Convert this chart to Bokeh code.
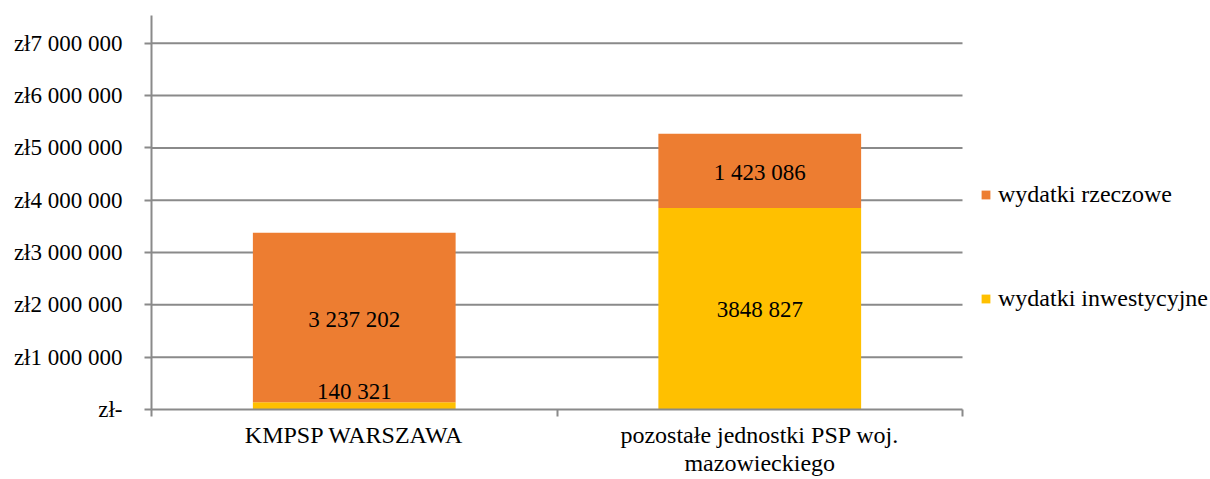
import numpy as np
from bokeh.plotting import figure
from bokeh.models import (ColumnDataSource, FixedTicker, Legend, LegendItem, LabelSet)
from bokeh.embed import file_html
from bokeh.resources import INLINE

# ---- data ----
categories = ["KMPSP WARSZAWA", "pozostałe jednostki PSP woj.\nmazowieckiego"]
series_names = ["wydatki inwestycyjne", "wydatki rzeczowe"]
inwestycyjne = [140321, 3848827]
rzeczowe = [3237202, 1423086]
inwestycyjne_labels = ["140 321", "3848 827"]
rzeczowe_labels = ["3 237 202", "1 423 086"]
y_ticks = [0, 1000000, 2000000, 3000000, 4000000, 5000000, 6000000, 7000000]
y_tick_labels = ["zł-", "zł1 000 000", "zł2 000 000", "zł3 000 000", "zł4 000 000",
                 "zł5 000 000", "zł6 000 000", "zł7 000 000"]

colors = {"wydatki inwestycyjne": "#FFC000", "wydatki rzeczowe": "#ED7D31"}
FONT = "Liberation Serif"
FS = "23px"
FS_X = "24px"
GRID = "#8a8a8a"

W, H = 1210, 479
LEFT, PLOT_RIGHT, TOP, BOTTOM = 151, 962, 15, 411
n = len(categories)
# the frame extends to the right edge so that the legend is not clipped;
# the axis and grid lines are limited to the category span
x_end = n * (W - LEFT) / (PLOT_RIGHT - LEFT)

x = np.arange(n) + 0.5
source = ColumnDataSource(dict(x=x, inw=inwestycyjne, rz=rzeczowe))

p = figure(width=W, height=H, output_backend="svg", toolbar_location=None,
           x_range=(0, x_end), y_range=(0, 7530000),
           min_border_left=LEFT, min_border_right=0, min_border_top=TOP,
           min_border_bottom=H - BOTTOM)
p.outline_line_color = None
p.background_fill_color = "white"
p.border_fill_color = "white"
p.xgrid.grid_line_color = None
p.ygrid.grid_line_color = None

# horizontal grid lines, bounded to the category span
gy = y_ticks[1:]
p.segment(x0=[0] * len(gy), y0=gy, x1=[n] * len(gy), y1=gy,
          line_color=GRID, line_width=2)

rs = p.vbar_stack(["inw", "rz"], x="x", width=0.5, source=source,
                  color=[colors["wydatki inwestycyjne"], colors["wydatki rzeczowe"]],
                  line_color=None)

# data labels
inw_arr = np.array(inwestycyjne, dtype=float)
rz_arr = np.array(rzeczowe, dtype=float)
small = inw_arr < 300000
inw_y = np.where(small, inw_arr, inw_arr / 2)
lab_src_a = ColumnDataSource(dict(x=x[~small], y=inw_y[~small],
                                  t=[l for l, s in zip(inwestycyjne_labels, small) if not s]))
lab_src_b = ColumnDataSource(dict(x=x[small], y=inw_y[small],
                                  t=[l for l, s in zip(inwestycyjne_labels, small) if s]))
lab_src_c = ColumnDataSource(dict(x=x, y=inw_arr + rz_arr / 2, t=rzeczowe_labels))

for src, base, yoff in [(lab_src_a, "middle", -1), (lab_src_b, "bottom", -2), (lab_src_c, "middle", -2)]:
    p.add_layout(LabelSet(x="x", y="y", text="t", source=src, text_align="center",
                          text_baseline=base, y_offset=yoff, text_font=FONT,
                          text_font_size=FS, text_color="black"))

# y axis
p.yaxis.ticker = FixedTicker(ticks=y_ticks)
p.yaxis.major_label_overrides = {t: l for t, l in zip(y_ticks, y_tick_labels)}
p.yaxis.major_label_text_font = FONT
p.yaxis.major_label_text_font_size = FS
p.yaxis.major_label_text_color = "black"
p.yaxis.axis_line_color = GRID
p.yaxis.axis_line_width = 2
p.yaxis.major_tick_line_color = GRID
p.yaxis.major_tick_line_width = 2
p.yaxis.major_tick_out = 7
p.yaxis.major_tick_in = 0
p.yaxis.minor_tick_line_color = None
p.yaxis.major_label_standoff = 22

# x axis
p.xaxis.bounds = (0, n)
p.xaxis.ticker = FixedTicker(ticks=list(x), minor_ticks=list(np.arange(n + 1)))
p.xaxis.major_label_overrides = {float(xx): c for xx, c in zip(x, categories)}
p.xaxis.major_label_text_font = FONT
p.xaxis.major_label_text_font_size = FS_X
p.xaxis.major_label_text_line_height = 1.1
p.xaxis.major_label_text_color = "black"
p.xaxis.axis_line_color = GRID
p.xaxis.axis_line_width = 2
p.xaxis.major_tick_line_color = None
p.xaxis.major_tick_out = 7
p.xaxis.minor_tick_line_color = GRID
p.xaxis.minor_tick_line_width = 2
p.xaxis.minor_tick_out = 7
p.xaxis.minor_tick_in = 0
p.xaxis.major_label_standoff = 5

legend = Legend(items=[LegendItem(label=series_names[1], renderers=[rs[1]]),
                       LegendItem(label=series_names[0], renderers=[rs[0]])],
                location=(829, 97), orientation="vertical")
legend.label_text_font = FONT
legend.label_text_font_size = FS_X
legend.label_text_color = "black"
legend.glyph_width = 11
legend.glyph_height = 11
legend.label_standoff = 7
legend.spacing = 77
legend.padding = 0
legend.margin = 0
legend.border_line_color = None
legend.background_fill_alpha = 0
p.add_layout(legend, "center")

open("out.html", "w").write(file_html(p, INLINE))
